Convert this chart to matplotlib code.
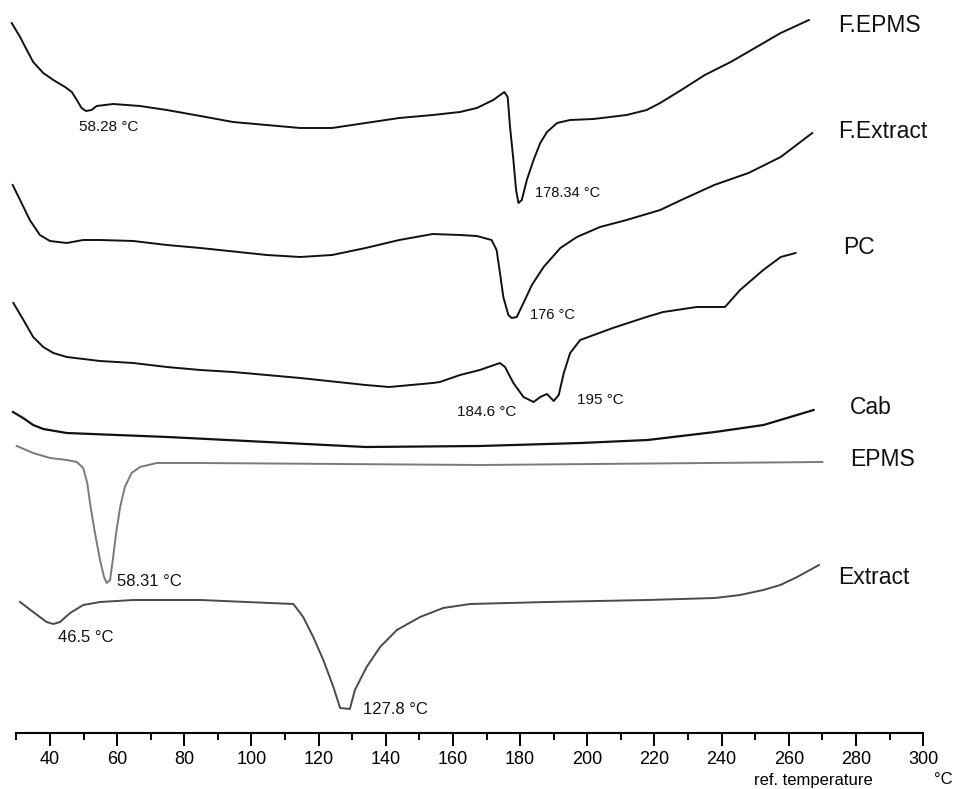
import matplotlib
matplotlib.use("Agg")
import matplotlib.pyplot as plt
from matplotlib.ticker import FixedLocator

plt.rcParams['font.family'] = ['Liberation Sans', 'DejaVu Sans']

# DSC thermograms, heat flow in arbitrary units (curves stacked)
fepms_t = [28.6, 31.1, 33.1, 35.0, 38.0, 41.0, 44.5, 46.5, 48.0, 49.4, 50.7, 52.4, 53.9, 58.8, 66.8, 74.8,
           84.8, 94.5, 114.5, 124, 134, 144, 154, 162.1, 167.1, 172.0, 175.3, 176.3, 177.0, 178.0, 178.8,
           179.5, 180.5, 182.0, 184.0, 186.0, 188.0, 191.0, 194.9, 201.8, 206.8, 211.7, 217.7, 221.7,
           228, 235, 242.7, 257.6, 266]
fepms_h = [76.6, 75.2, 73.9, 72.7, 71.6, 70.9, 70.2, 69.7, 68.9, 68.1, 67.8, 67.9, 68.3, 68.5, 68.3, 67.9,
           67.3, 66.7, 66.1, 66.1, 66.6, 67.1, 67.4, 67.7, 68.1, 68.9, 69.7, 69.2, 66.2, 62.9, 59.9,
           58.6, 58.9, 60.9, 62.9, 64.6, 65.7, 66.6, 66.9, 67.0, 67.2, 67.4, 67.9, 68.6,
           69.9, 71.4, 72.7, 75.6, 76.9]

fext_t = [28.9, 31.1, 34.0, 37.0, 40.0, 45.0, 49.9, 54.9, 64.8, 74.8, 84.8, 104.6, 114.5, 124, 134, 144,
          154, 162.1, 167.1, 171.5, 173.0, 174.0, 175.0, 176.5, 177.5, 179.0, 181.0, 183.5, 187.0, 192.0,
          196.9, 203.8, 211.7, 221.7, 228, 237.8, 248, 257.6, 267]
fext_h = [60.4, 58.9, 56.9, 55.4, 54.8, 54.6, 54.9, 54.9, 54.8, 54.4, 54.1, 53.4, 53.2, 53.4, 54.1, 54.9,
          55.5, 55.4, 55.3, 54.9, 53.9, 51.6, 49.2, 47.4, 47.1, 47.2, 48.6, 50.4, 52.2, 54.1,
          55.2, 56.2, 56.9, 57.9, 58.9, 60.4, 61.6, 63.2, 65.6]

pc_t = [29.1, 32.1, 35.0, 38.0, 41.0, 45.0, 54.9, 64.8, 74.8, 84.8, 94.5, 114.5, 134, 141, 154, 156.1,
        162.1, 168.0, 174.0, 175.5, 178.0, 181.0, 184.0, 186.0, 188.0, 190.0, 191.5, 193.0, 194.9,
        197.9, 207.6, 217.6, 222.6, 232.6, 241, 245.5, 252.4, 257.6, 262]
pc_h = [48.6, 46.9, 45.2, 44.2, 43.6, 43.2, 42.8, 42.6, 42.2, 41.9, 41.7, 41.1, 40.4, 40.2, 40.6, 40.7,
        41.4, 41.9, 42.6, 42.2, 40.6, 39.2, 38.7, 39.2, 39.5, 38.8, 39.4, 41.6, 43.6,
        44.9, 46.1, 47.2, 47.7, 48.2, 48.2, 49.9, 51.9, 53.2, 53.6]

cab_t = [29, 32, 35, 38, 45, 75, 104.6, 134, 168, 198, 218, 238, 252.5, 267.4]
cab_h = [37.7, 37.1, 36.4, 36.0, 35.6, 35.2, 34.7, 34.2, 34.3, 34.6, 34.9, 35.7, 36.4, 37.9]

epms_t = [30.1, 35.0, 40.0, 45.0, 48.0, 49.9, 51.1, 52.1, 53.4, 54.9, 56.1, 56.9, 57.9, 58.7, 59.7,
          60.9, 62.3, 64.3, 66.8, 71.8, 84.8, 168, 270]
epms_h = [34.3, 33.6, 33.1, 32.9, 32.7, 32.1, 30.6, 28.2, 25.6, 22.9, 21.2, 20.6, 20.9, 22.9, 25.6,
          28.2, 30.2, 31.6, 32.2, 32.6, 32.6, 32.4, 32.7]

ext_t = [31.1, 35.0, 39.0, 41.0, 43.0, 46.0, 49.9, 54.9, 64.8, 84.8, 105.5, 112.5, 115.4, 118.4, 121.4,
         124.4, 126.4, 129.3, 130.8, 134.3, 138.3, 143.3, 150.2, 157.1, 165.1, 188, 218, 238, 245.5,
         252.4, 257.5, 262.5, 269]
ext_h = [18.7, 17.7, 16.7, 16.5, 16.7, 17.6, 18.4, 18.7, 18.9, 18.9, 18.6, 18.5, 17.2, 15.2, 12.9,
         10.2, 8.1, 8.0, 9.9, 12.2, 14.2, 15.9, 17.2, 18.1, 18.5, 18.7, 18.9, 19.1, 19.4,
         19.9, 20.4, 21.2, 22.4]

curve_names = ['F.EPMS', 'F.Extract', 'PC', 'Cab', 'EPMS', 'Extract']
name_pos = [(274.7, 76.4), (274.7, 65.7), (276.2, 54.2), (278.3, 38.1), (278.3, 32.9), (274.7, 21.2)]

peak_labels = ['58.28 °C', '178.34 °C', '176 °C', '184.6 °C', '195 °C', '58.31 °C', '46.5 °C', '127.8 °C']
peak_pos = [(48.6, 66.2), (184.4, 59.6), (182.9, 47.4), (161.2, 37.7), (196.9, 38.9),
            (60.0, 20.7), (42.4, 15.2), (133.2, 8.0)]
peak_size = [11, 10.5, 10.5, 11, 11, 12, 12, 12]

fig = plt.figure(figsize=(9.55, 7.89), dpi=100)
ax = fig.add_axes([0, 0, 1, 1])

ax.plot(fepms_t, fepms_h, color='#111111', lw=1.4)
ax.plot(fext_t, fext_h, color='#111111', lw=1.4)
ax.plot(pc_t, pc_h, color='#111111', lw=1.4)
ax.plot(cab_t, cab_h, color='#111111', lw=1.6)
ax.plot(epms_t, epms_h, color='#7a7a7a', lw=1.4)
ax.plot(ext_t, ext_h, color='#4a4a4a', lw=1.4)

for name, (x, y) in zip(curve_names, name_pos):
    ax.text(x, y, name, fontsize=16.5, ha='left', va='center', color='#111111')

for lab, (x, y), fs in zip(peak_labels, peak_pos, peak_size):
    ax.text(x, y, lab, fontsize=fs, ha='left', va='center', color='#111111')

ax.set_xlim(25.12, 309.5)
ax.set_ylim(0, 78.9)

for s in ['left', 'right', 'top']:
    ax.spines[s].set_visible(False)
ax.spines['bottom'].set_position(('data', 5.6))
ax.spines['bottom'].set_bounds(30, 300)
ax.spines['bottom'].set_linewidth(1.5)
ax.yaxis.set_visible(False)

ax.xaxis.set_major_locator(FixedLocator(list(range(40, 301, 20))))
ax.xaxis.set_minor_locator(FixedLocator(list(range(30, 300, 20))))
ax.tick_params(axis='x', which='major', direction='out', length=9, width=1.4, labelsize=13, pad=4)
ax.tick_params(axis='x', which='minor', direction='out', length=5, width=1.4)

ax.text(267.2, 0.9, 'ref. temperature', fontsize=12, ha='center', va='center')
ax.text(306.0, 0.9, '°C', fontsize=12, ha='center', va='center')

fig.savefig('out.png', dpi=100)
